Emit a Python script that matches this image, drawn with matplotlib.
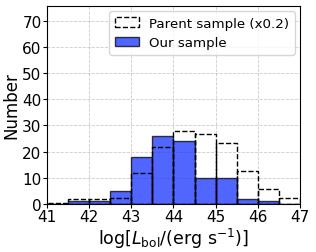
import numpy as np
import matplotlib
matplotlib.use('Agg')
import matplotlib.pyplot as plt

# bin edges in log L_bol
edges = np.arange(41.0, 47.01, 0.5)
ours = [0, 1, 1, 5, 18, 26, 24, 10, 10, 2, 1, 0]
parent = [0.2, 2.0, 2.0, 2.4, 12.0, 21.6, 27.8, 26.8, 23.2, 12.4, 5.6, 2.4]  # already x0.2

fig = plt.figure(figsize=(3.16, 2.53), dpi=100)
ax = fig.add_axes([0.149, 0.19, 0.80, 0.782])

left = edges[:-1]
ax.bar(left, parent, width=0.5, align='edge', fill=False, edgecolor='k',
       linestyle='--', linewidth=1.0, label='Parent sample (x0.2)', zorder=3)
ax.bar(left, ours, width=0.5, align='edge', color='#1633ff', alpha=0.75,
       edgecolor='k', linewidth=1.0, label='Our sample', zorder=2)

ax.set_xlim(41, 47)
ax.set_ylim(0, 75.6)
ax.set_xticks(np.arange(41, 48, 1))
ax.set_yticks(np.arange(0, 71, 10))
ax.grid(True, linestyle='--', color='gray', alpha=0.4, linewidth=0.6, zorder=1)
ax.tick_params(labelsize=11, length=3, pad=1)
ax.set_xlabel(r'log[$L_{\rm bol}$/(erg s$^{-1}$)]', fontsize=12.5, labelpad=1)
ax.set_ylabel('Number', fontsize=12, labelpad=1)
ax.legend(loc='upper right', fontsize=9.6, handlelength=1.8, borderaxespad=0.4)

fig.savefig('out.png', dpi=100)
